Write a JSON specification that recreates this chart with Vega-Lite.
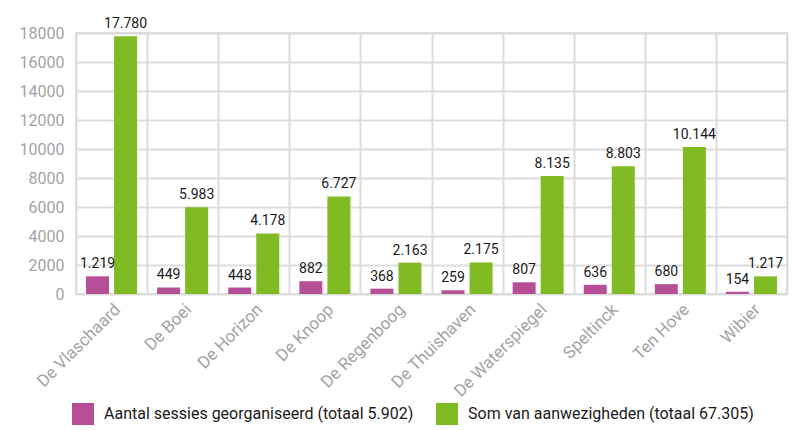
{
  "$schema": "https://vega.github.io/schema/vega-lite/v6.json",
  "width": 711,
  "height": 261,
  "autosize": {"type": "none"},
  "padding": {"left": 76, "top": 33, "right": 8, "bottom": 136},
  "background": "white",
  "config": {
    "locale": {"number": {"decimal": ",", "thousands": ".", "grouping": [3], "currency": ["€", ""]}},
    "font": "Roboto",
    "view": {"stroke": "#dcdcdc", "strokeWidth": 2}
  },
  "data": {
    "values": [
      {"locatie": "De Vlaschaard", "reeks": "Aantal sessies georganiseerd (totaal 5.902)", "waarde": 1219},
      {"locatie": "De Vlaschaard", "reeks": "Som van aanwezigheden (totaal  67.305)", "waarde": 17780},
      {"locatie": "De Boei", "reeks": "Aantal sessies georganiseerd (totaal 5.902)", "waarde": 449},
      {"locatie": "De Boei", "reeks": "Som van aanwezigheden (totaal  67.305)", "waarde": 5983},
      {"locatie": "De Horizon", "reeks": "Aantal sessies georganiseerd (totaal 5.902)", "waarde": 448},
      {"locatie": "De Horizon", "reeks": "Som van aanwezigheden (totaal  67.305)", "waarde": 4178},
      {"locatie": "De Knoop", "reeks": "Aantal sessies georganiseerd (totaal 5.902)", "waarde": 882},
      {"locatie": "De Knoop", "reeks": "Som van aanwezigheden (totaal  67.305)", "waarde": 6727},
      {"locatie": "De Regenboog", "reeks": "Aantal sessies georganiseerd (totaal 5.902)", "waarde": 368},
      {"locatie": "De Regenboog", "reeks": "Som van aanwezigheden (totaal  67.305)", "waarde": 2163},
      {"locatie": "De Thuishaven", "reeks": "Aantal sessies georganiseerd (totaal 5.902)", "waarde": 259},
      {"locatie": "De Thuishaven", "reeks": "Som van aanwezigheden (totaal  67.305)", "waarde": 2175},
      {"locatie": "De Waterspiegel", "reeks": "Aantal sessies georganiseerd (totaal 5.902)", "waarde": 807},
      {"locatie": "De Waterspiegel", "reeks": "Som van aanwezigheden (totaal  67.305)", "waarde": 8135},
      {"locatie": "Speltinck", "reeks": "Aantal sessies georganiseerd (totaal 5.902)", "waarde": 636},
      {"locatie": "Speltinck", "reeks": "Som van aanwezigheden (totaal  67.305)", "waarde": 8803},
      {"locatie": "Ten Hove", "reeks": "Aantal sessies georganiseerd (totaal 5.902)", "waarde": 680},
      {"locatie": "Ten Hove", "reeks": "Som van aanwezigheden (totaal  67.305)", "waarde": 10144},
      {"locatie": "Wibier", "reeks": "Aantal sessies georganiseerd (totaal 5.902)", "waarde": 154},
      {"locatie": "Wibier", "reeks": "Som van aanwezigheden (totaal  67.305)", "waarde": 1217}
    ]
  },
  "encoding": {
    "x": {
      "field": "locatie", "type": "nominal", "sort": null, "title": null,
      "scale": {"paddingInner": 0, "paddingOuter": 0},
      "axis": {
        "labelAngle": -45, "labelColor": "#a3a3a3", "labelFontSize": 17, "labelPadding": 7,
        "ticks": false, "domain": false, "grid": true, "tickBand": "extent",
        "gridColor": "#dcdcdc", "gridWidth": 2
      }
    },
    "xOffset": {
      "field": "reeks", "type": "nominal",
      "scale": {"paddingInner": 0.18, "paddingOuter": 0.358}
    },
    "y": {
      "field": "waarde", "type": "quantitative", "title": null,
      "scale": {"domain": [0, 18000], "nice": false},
      "axis": {
        "values": [0, 2000, 4000, 6000, 8000, 10000, 12000, 14000, 16000, 18000],
        "format": "d", "labelColor": "#a3a3a3", "labelFontSize": 16, "labelPadding": 12,
        "ticks": false, "domain": false, "gridColor": "#dcdcdc", "gridWidth": 2
      }
    }
  },
  "layer": [
    {
      "mark": {"type": "bar"},
      "encoding": {
        "color": {
          "field": "reeks", "type": "nominal", "title": null,
          "scale": {"range": ["#b64f98", "#80bb23"]},
          "legend": {
            "orient": "none", "direction": "horizontal", "legendX": -4, "legendY": 370,
            "symbolType": "square", "symbolSize": 484, "symbolStrokeWidth": 0,
            "labelFontSize": 16, "labelColor": "#1a1a1a", "labelLimit": 400,
            "columnPadding": 22, "labelOffset": 10
          }
        }
      }
    },
    {
      "mark": {"type": "text", "baseline": "bottom", "dy": -5, "fontSize": 14, "color": "#1a1a1a"},
      "encoding": {
        "text": {"field": "waarde", "type": "quantitative", "format": ",d"}
      }
    }
  ]
}
